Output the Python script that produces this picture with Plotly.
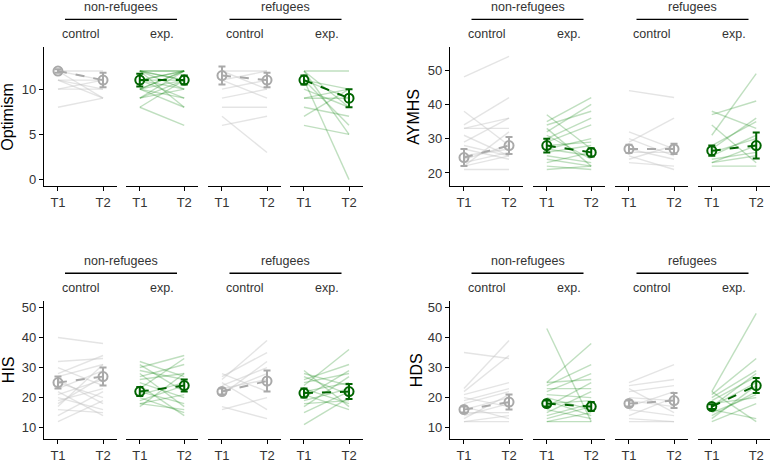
import plotly.graph_objects as go

W, H = 772, 463

# ---------------- data ----------------
measures = ["Optimism", "AYMHS", "HIS", "HDS"]
groups = ["non-refugees", "refugees"]
conditions = ["control", "exp.", "control", "exp."]
times = ["T1", "T2"]

# facets order: non-ref control, non-ref exp, ref control, ref exp
optimism_t1 = [
    [12, 12, 12, 11, 11, 10, 10, 8, 11],
    [12, 12, 12, 12, 11, 11, 11, 11, 10, 10, 10, 9, 9, 8, 8, 12, 10, 9, 12, 11, 10],
    [12, 12, 11, 10, 9, 8, 7, 6, 11],
    [12, 12, 12, 11, 11, 11, 10, 9, 9, 8, 7, 6, 11],
]
optimism_t2 = [
    [12, 11, 9, 9, 11, 11, 10, 9, 10],
    [12, 12, 11, 10, 12, 12, 9, 10, 12, 11, 8, 12, 10, 11, 6, 8, 9, 11, 11, 11, 12],
    [12, 10, 12, 11, 10, 8, 3, 7, 9],
    [12, 5, 8, 10, 9, 6, 8, 10, 9, 7, 10, 5, 0],
]
optimism_mean = [[12, 11], [11, 11], [11.5, 11], [11, 9]]
optimism_err = [[0.2, 0.8], [0.7, 0.5], [1.0, 0.8], [0.5, 1.0]]

aymhs_t1 = [
    [48, 38, 34, 33, 33, 31, 29, 28, 27, 25, 24, 23, 22, 21, 22],
    [37, 35, 34, 33, 32, 30, 29, 28, 27, 26, 25, 24, 23, 22, 21, 31, 27],
    [44, 32, 29, 27, 26, 25, 24, 23, 30],
    [38, 37, 34, 31, 28, 27, 26, 25, 24, 23, 22, 23],
]
aymhs_t2 = [
    [54, 28, 42, 33, 36, 25, 36, 25, 24, 27, 28, 26, 25, 21, 32],
    [27, 42, 38, 22, 40, 36, 34, 29, 25, 28, 23, 22, 26, 21, 22, 24, 30],
    [42, 27, 36, 24, 26, 21, 28, 22, 25],
    [33, 41, 23, 49, 35, 36, 30, 31, 26, 25, 22, 28],
]
aymhs_mean = [[24.5, 28], [28, 26], [27, 27], [26.5, 28]]
aymhs_err = [[2.5, 2.5], [2.0, 1.2], [1.2, 1.5], [1.5, 3.8]]

his_t1 = [
    [40, 32, 28, 27, 25, 23, 21, 20, 19, 18, 16, 14, 12, 30, 22, 17, 26],
    [32, 31, 30, 28, 27, 26, 25, 23, 22, 21, 20, 19, 18, 18, 17, 24, 29],
    [28, 27, 26, 25, 24, 22, 21, 17, 16, 23],
    [29, 28, 27, 26, 25, 24, 22, 21, 20, 19, 18, 17, 15, 11, 23],
]
his_t2 = [
    [38, 33, 34, 31, 20, 29, 26, 16, 23, 27, 15, 22, 19, 24, 14, 31, 18],
    [27, 22, 34, 17, 31, 28, 20, 33, 18, 25, 15, 24, 16, 21, 28, 14, 26],
    [22, 35, 39, 16, 30, 28, 32, 13, 20, 26],
    [17, 24, 21, 31, 28, 36, 25, 16, 29, 23, 19, 27, 22, 20, 18],
]
his_mean = [[25, 27], [22, 24], [22, 25.5], [21.5, 22]]
his_err = [[2.0, 3.0], [1.5, 2.0], [1.0, 3.5], [1.5, 2.5]]

hds_t1 = [
    [35, 23, 22, 21, 20, 19, 18, 17, 16, 15, 14, 13, 12, 12],
    [43, 25, 25, 24, 23, 22, 21, 20, 19, 18, 17, 16, 15, 14, 13, 12, 12],
    [25, 24, 23, 22, 20, 19, 17, 16, 14, 13, 12],
    [22, 21, 20, 19, 18, 17, 16, 15, 14, 13, 12, 22, 17],
]
hds_t2 = [
    [33, 39, 34, 25, 17, 23, 22, 13, 20, 15, 18, 21, 14, 12],
    [12, 38, 26, 31, 23, 28, 20, 16, 14, 19, 25, 13, 22, 18, 17, 12, 15],
    [31, 26, 15, 24, 19, 17, 22, 14, 20, 12, 12],
    [48, 33, 29, 27, 20, 25, 13, 21, 22, 24, 18, 12, 28],
]
hds_mean = [[16, 18.5], [18, 17], [18, 19], [17, 24]]
hds_err = [[1.0, 2.5], [1.0, 1.5], [1.0, 2.5], [0.8, 2.5]]

y_ranges = [[-0.7, 14.6], [16.2, 56.6], [6.25, 52], [6.25, 52]]
y_ticks = [[0, 5, 10], [20, 30, 40, 50], [10, 20, 30, 40, 50], [10, 20, 30, 40, 50]]

all_t1 = [optimism_t1, aymhs_t1, his_t1, hds_t1]
all_t2 = [optimism_t2, aymhs_t2, his_t2, hds_t2]
all_mean = [optimism_mean, aymhs_mean, his_mean, hds_mean]
all_err = [optimism_err, aymhs_err, his_err, hds_err]

# ---------------- layout geometry (pixels) ----------------
facet_x_left = [[44, 117], [126, 198], [208, 281], [290, 363]]
facet_x_right = [[450, 523], [533, 605], [615, 688], [698, 770]]
panel_y = [[47, 187], [47, 187], [303.7, 442.7], [303.7, 442.7]]
panel_facets = [facet_x_left, facet_x_right, facet_x_left, facet_x_right]
ytitle_x = [8, 414, 8, 416]


def px(x):
    return x / W


def py(y):
    return 1 - y / H


LIGHT = {0: "rgba(195,195,195,0.45)", 1: "rgba(0,128,0,0.25)"}
MEANC = {0: "#a9a9a9", 1: "#006400"}
TXT = "#333333"
FONT = "Liberation Sans, Arial, sans-serif"

fig = go.Figure()
layout = dict(
    width=W, height=H, margin=dict(l=0, r=0, t=0, b=0),
    paper_bgcolor="white", plot_bgcolor="white", showlegend=False,
    font=dict(family=FONT, color=TXT),
)
annotations = []
shapes = []

ax_idx = 0
for p in range(4):
    y0, y1 = panel_y[p]
    yname = "yaxis" if p == 0 else f"yaxis{p + 1}"
    yref = "y" if p == 0 else f"y{p + 1}"
    first_x = ax_idx + 1
    layout[yname] = dict(
        domain=[py(y1), py(y0)], range=y_ranges[p], tickvals=y_ticks[p],
        showline=True, linecolor="black", linewidth=1.3, ticks="outside",
        ticklen=4, tickcolor="black", showgrid=False, zeroline=False,
        anchor="x" if first_x == 1 else f"x{first_x}",
        tickfont=dict(size=13, color=TXT, family=FONT),
    )
    annotations.append(dict(
        x=px(ytitle_x[p]), y=py((y0 + y1) / 2), xref="paper", yref="paper",
        text=measures[p], textangle=-90, showarrow=False,
        font=dict(size=16, color="black", family=FONT),
        xanchor="center", yanchor="middle",
    ))
    for f in range(4):
        ax_idx += 1
        xname = "xaxis" if ax_idx == 1 else f"xaxis{ax_idx}"
        xref = "x" if ax_idx == 1 else f"x{ax_idx}"
        fx0, fx1 = panel_facets[p][f]
        layout[xname] = dict(
            domain=[px(fx0), px(fx1)], range=[-0.31, 1.31],
            tickvals=[0, 1], ticktext=times, showline=True, linecolor="black",
            linewidth=1.3, ticks="outside", ticklen=4, tickcolor="black",
            showgrid=False, zeroline=False, anchor=yref,
            tickfont=dict(size=13, color=TXT, family=FONT),
        )
        cond = f % 2
        t1 = all_t1[p][f]
        t2 = all_t2[p][f]
        xs, ys = [], []
        for a, b in zip(t1, t2):
            xs += [0, 1, None]
            ys += [a, b, None]
        fig.add_trace(go.Scatter(
            x=xs, y=ys, mode="lines", xaxis=xref, yaxis=yref,
            line=dict(color=LIGHT[cond], width=1.4), hoverinfo="skip",
        ))
        m = all_mean[p][f]
        e = all_err[p][f]
        fig.add_trace(go.Scatter(
            x=[0, 1], y=m, mode="lines", xaxis=xref, yaxis=yref,
            line=dict(color=MEANC[cond], width=2, dash="dash"),
        ))
        fig.add_trace(go.Scatter(
            x=[0, 1], y=m, mode="markers", xaxis=xref, yaxis=yref,
            marker=dict(symbol="circle-open", size=9, color=MEANC[cond],
                        line=dict(width=2, color=MEANC[cond])),
            error_y=dict(type="data", array=e, color=MEANC[cond],
                         thickness=2, width=3.5),
        ))
        # condition label
        annotations.append(dict(
            x=px((fx0 + fx1) / 2), y=py(y0 - 14), xref="paper", yref="paper",
            text=conditions[f], showarrow=False,
            font=dict(size=12.5, color=TXT, family=FONT),
            xanchor="center", yanchor="middle",
        ))
    # group labels + lines
    for g in range(2):
        gx0 = panel_facets[p][2 * g][0]
        gx1 = panel_facets[p][2 * g + 1][1]
        cx = (gx0 + gx1) / 2
        annotations.append(dict(
            x=px(cx), y=py(y0 - 41), xref="paper", yref="paper",
            text=groups[g], showarrow=False,
            font=dict(size=12.5, color=TXT, family=FONT),
            xanchor="center", yanchor="middle",
        ))
        shapes.append(dict(
            type="line", xref="paper", yref="paper",
            x0=px(cx - 56), x1=px(cx + 56), y0=py(y0 - 28.5), y1=py(y0 - 28.5),
            line=dict(color="black", width=1.3),
        ))

layout["annotations"] = annotations
layout["shapes"] = shapes
fig.update_layout(**layout)
fig.write_html(
    "out.html",
    config={"displayModeBar": False},
    post_script="document.body.style.margin='0px';document.body.style.overflow='hidden';",
)
